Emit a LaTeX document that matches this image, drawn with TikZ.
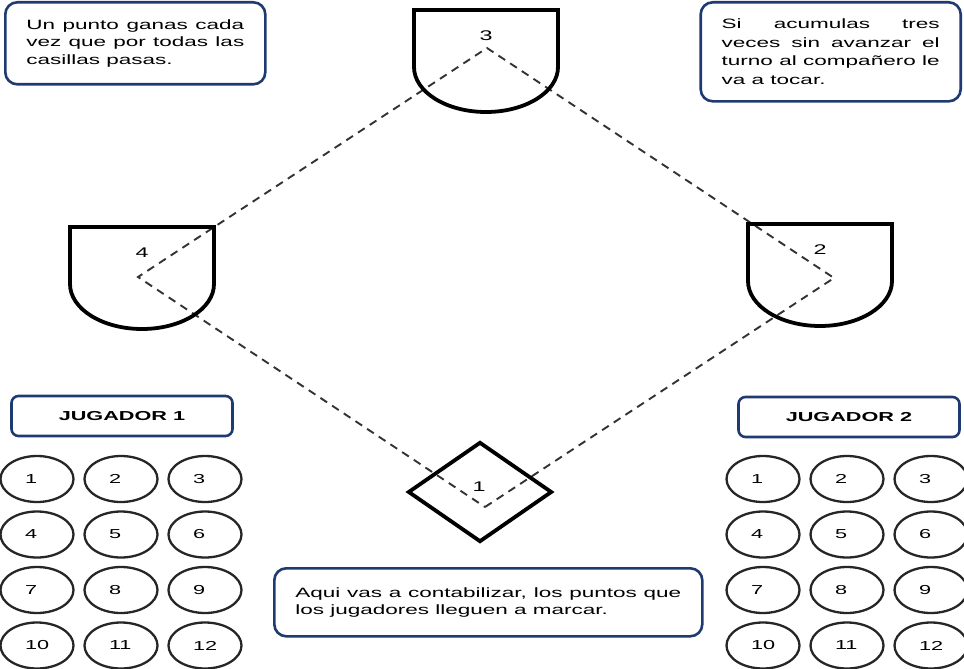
\documentclass[tikz,border=0pt]{standalone}
\usepackage{fontspec}
\setmainfont{Liberation Sans}[FakeStretch=1.667]
\usetikzlibrary{shapes.geometric}
\definecolor{marco}{HTML}{1F3A70}
\tikzset{
    nota/.style={draw=marco, line width=2.6pt, rounded corners=12pt, inner xsep=21pt, inner ysep=0pt, align=justify},
    jugador/.style={draw=marco, line width=2.6pt, rounded corners=7pt, minimum width=221pt, minimum height=40pt, font=\fontsize{13}{15}\selectfont\bfseries},
    casilla/.style={ellipse, draw=black!85, line width=2.3pt, minimum width=73pt, minimum height=46pt, inner sep=0pt, font=\fontsize{13}{15}\selectfont},
    base/.style={line width=3.8pt, line join=miter},
    camino/.style={draw=black!80, line width=1.9pt, dash pattern=on 8pt off 6pt},
    numero/.style={font=\fontsize{14}{16}\selectfont}
}

\begin{document}
\begin{tikzpicture}[x=1pt, y=-1pt]
    \useasboundingbox (0, 0) rectangle (964, 669);

    \coordinate (casa) at (485, 507);
    \coordinate (primera) at (834, 278);
    \coordinate (segunda) at (487, 48);
    \coordinate (tercera) at (138, 277);

    \draw[camino] (casa) -- (primera) -- (segunda) -- (tercera) -- cycle;

    \foreach \x/\y/\n in {820/224/2, 486/10/3, 142/227/4} {
        \draw[base] (\x - 72, \y) -- (\x + 72, \y) -- (\x + 72, \y + 57)
            arc[start angle=0, end angle=180, x radius=72, y radius=45] -- cycle;
        \node[numero] (base\n) at (\x, \y + 26) {\n};
    }

    \node[diamond, draw, line width=3.8pt, minimum width=144pt, minimum height=100pt, inner sep=0pt] (home) at (480, 492) {};
    \node[numero] (base1) at (479, 487) {1};

    \node[nota, text width=218pt, minimum height=82pt, anchor=north west, font=\fontsize{13.5}{17.5}\selectfont] (regla) at (4, 1)
        {Un punto ganas cada\linebreak vez que por todas las\linebreak casillas pasas.\par\vspace{6pt}};
    \node[nota, text width=218pt, minimum height=99pt, anchor=north east, font=\fontsize{13.5}{18.5}\selectfont] (turno) at (962, 1)
        {Si acumulas tres\linebreak veces sin avanzar el\linebreak turno al compañero le\linebreak va a tocar.\par\vspace{6pt}};
    \node[nota, text width=386pt, minimum height=68pt, anchor=north west, font=\fontsize{13.5}{17}\selectfont] (cuenta) at (273, 567)
        {Aqui vas a contabilizar, los puntos que\linebreak los jugadores lleguen a marcar.\par\vspace{6pt}};

    \node[jugador] (jugador1) at (122, 416) {JUGADOR 1};
    \node[jugador] (jugador2) at (849, 417) {JUGADOR 2};

    \foreach \fila in {0,...,3}
        \foreach \col in {0, 1, 2} {
            \pgfmathtruncatemacro\n{3*\fila + \col + 1}
            \node[casilla] (uno-\n) at (37 + 84*\col, 479 + 55.5*\fila) {\makebox[24pt][l]{\n}};
            \node[casilla] (dos-\n) at (763 + 84*\col, 479 + 55.5*\fila) {\makebox[24pt][l]{\n}};
        }
\end{tikzpicture}
\end{document}
